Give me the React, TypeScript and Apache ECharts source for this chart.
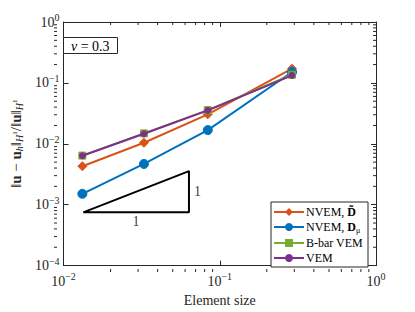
import React, { useEffect, useRef } from "react";
import * as echarts from "echarts";

const xVals = [0.0132, 0.0327, 0.0838, 0.29];
const nvemDtilde = [0.00428, 0.0104, 0.0305, 0.171];
const nvemDmu = [0.00151, 0.00467, 0.0168, 0.151];
const bbarVem = [0.0064, 0.0148, 0.0357, 0.136];
const vem = [0.00636, 0.0146, 0.0354, 0.133];
const seriesNames = ["NVEM, D~", "NVEM, Dmu", "B-bar VEM", "VEM"];
const triangleX = [0.01337, 0.0635];
const triangleY = [7.5e-4, 3.56e-3];
const xDecades = [0.01, 0.1];
const yDecades = [1e-4, 1e-3, 1e-2, 1e-1];
const minorMults = [2, 3, 4, 5, 6, 7, 8, 9];

const FONT = "'Liberation Serif', 'DejaVu Serif', serif";
const AX = "#262626";

const pairs = (ys: number[]) => xVals.map((x, i) => [x, ys[i]]);

const supFmt = (v: number) => {
  const e = Math.round(Math.log10(v));
  return "{b|10}{s|" + (e < 0 ? "\u2212" + -e : String(e)) + "}";
};

const tickRich = {
  b: { fontFamily: FONT, fontSize: 14, color: AX },
  s: { fontFamily: FONT, fontSize: 10, color: AX, verticalAlign: "bottom", padding: [0, 0, 9, 0] },
};

export default function App() {
  const ref = useRef<HTMLDivElement>(null);
  useEffect(() => {
    document.body.style.margin = "0";
    const chart = echarts.init(ref.current!, null, { renderer: "svg" });
    const axisCommon = {
      type: "log" as const,
      logBase: 10,
      axisLine: { show: true, lineStyle: { color: AX, width: 1 } },
      axisTick: { show: true, inside: true, length: 5, lineStyle: { color: AX } },
      minorTick: { show: false },
      splitLine: { show: false },
      minorSplitLine: { show: false },
    };
    const lineSeries = (name: string, data: number[], color: string, symbol: string, size: number, z: number) => ({
      name,
      type: "line",
      data: pairs(data),
      symbol,
      symbolSize: size,
      z,
      lineStyle: { color, width: 2 },
      itemStyle: { color, borderColor: color },
    });
    chart.setOption({
      animation: false,
      grid: { left: 54, right: 39, top: 22, bottom: 40, containLabel: false },
      title: {
        text: "{i|\u03bd} = 0.3",
        left: 63,
        top: 37,
        padding: [2, 8, 1, 8],
        borderColor: AX,
        borderWidth: 1,
        backgroundColor: "#fff",
        textStyle: {
          fontFamily: FONT,
          fontSize: 14,
          fontWeight: "normal",
          color: "#000",
          rich: {
            n: { fontFamily: FONT, fontSize: 14, color: "#000" },
            i: { fontFamily: FONT, fontSize: 14, fontStyle: "italic", color: "#000" },
          },
        },
      },
      xAxis: [
        {
          ...axisCommon,
          min: 0.01,
          max: 1,
          position: "bottom",
          name: "Element size",
          nameLocation: "middle",
          nameGap: 24,
          nameTextStyle: { fontFamily: FONT, fontSize: 14, color: AX },
          axisLabel: { formatter: supFmt, rich: tickRich, margin: 6 },
        },
        {
          ...axisCommon,
          min: 0.01,
          max: 1,
          position: "top",
          axisLabel: { show: false },
        },
      ],
      yAxis: [
        {
          ...axisCommon,
          min: 1e-4,
          max: 1,
          position: "left",
          name:
            "{n|\u2016}{b|u}{n| \u2212 }{b|u}{si|h}{n|\u2016}{si|H}{sup|1}{n|/\u2016}{b|u}{n|\u2016}{si|H}{sup|1}",
          nameLocation: "middle",
          nameGap: 36,
          nameRotate: 90,
          nameTextStyle: {
            fontFamily: FONT,
            fontSize: 15,
            color: AX,
            rich: {
              n: { fontFamily: FONT, fontSize: 15, color: AX },
              b: { fontFamily: FONT, fontSize: 15, fontWeight: "bold", color: AX },
              si: { fontFamily: FONT, fontSize: 10, fontStyle: "italic", color: AX, verticalAlign: "top", padding: [7, 0, 0, 0] },
              sup: { fontFamily: FONT, fontSize: 7, color: AX, verticalAlign: "top", padding: [4, 0, 0, 0] },
            },
          },
          axisLabel: { formatter: supFmt, rich: tickRich, margin: 4 },
        },
        {
          ...axisCommon,
          min: 1e-4,
          max: 1,
          position: "right",
          axisLabel: { show: false },
        },
      ],
      legend: {
        data: seriesNames,
        orient: "vertical",
        right: 47,
        bottom: 45,
        padding: [4, 5, 3, 2],
        itemGap: 3,
        itemWidth: 30,
        itemHeight: 10,
        borderColor: AX,
        borderWidth: 1,
        backgroundColor: "#fff",
        formatter: (name: string) => {
          if (name === "NVEM, D~") return "{n|NVEM, }{b|D\u0303}";
          if (name === "NVEM, Dmu") return "{n|NVEM, }{b|D}{sub|\u03bc}";
          return "{n|" + name + "}";
        },
        textStyle: {
          fontFamily: FONT,
          fontSize: 12,
          color: "#000",
          rich: {
            n: { fontFamily: FONT, fontSize: 12, color: "#000", padding: [0, 0, 0, -3] },
            b: { fontFamily: FONT, fontSize: 12, fontWeight: "bold", color: "#000" },
            sub: { fontFamily: FONT, fontSize: 8, color: "#000", verticalAlign: "top", padding: [6, 0, 0, 0] },
          },
        },
      },
      series: [
        lineSeries(seriesNames[0], nvemDtilde, "#D95319", "diamond", 9, 2),
        lineSeries(seriesNames[1], nvemDmu, "#0072BD", "circle", 9, 3),
        lineSeries(seriesNames[2], bbarVem, "#77AC30", "rect", 7, 4),
        lineSeries(seriesNames[3], vem, "#7E2F8E", "circle", 6, 5),
        {
          type: "line",
          data: [
            [triangleX[0], triangleY[0]],
            [triangleX[1], triangleY[0]],
            [triangleX[1], triangleY[1]],
            [triangleX[0], triangleY[0]],
          ],
          symbol: "none",
          silent: true,
          lineStyle: { color: "#000", width: 2 },
          z: 1,
        },
        {
          type: "scatter",
          silent: true,
          symbolSize: 0,
          data: [
            { value: [Math.sqrt(triangleX[0] * triangleX[1]), triangleY[0]], label: { position: "bottom", distance: 2 } },
            { value: [triangleX[1], Math.sqrt(triangleY[0] * triangleY[1])], label: { position: "right", distance: 5 } },
          ],
          label: { show: true, formatter: "1", fontFamily: FONT, fontSize: 14, color: "#000" },
        },
      ],
    });

    // minor ticks at 2..9 x each decade, positioned through the axes' own scales
    const gridRect = { top: 22, bottom: 312 - 40, left: 54, right: 415 - 39 };
    const els: any[] = [];
    const tickStyle = { stroke: AX, lineWidth: 1 };
    xDecades.forEach((d) => {
      minorMults.forEach((m) => {
        const px = chart.convertToPixel({ xAxisIndex: 0 }, d * m) as number;
        els.push({ type: "line", silent: true, shape: { x1: px, y1: gridRect.bottom, x2: px, y2: gridRect.bottom - 3 }, style: tickStyle });
        els.push({ type: "line", silent: true, shape: { x1: px, y1: gridRect.top, x2: px, y2: gridRect.top + 3 }, style: tickStyle });
      });
    });
    yDecades.forEach((d) => {
      minorMults.forEach((m) => {
        const py = chart.convertToPixel({ yAxisIndex: 0 }, d * m) as number;
        els.push({ type: "line", silent: true, shape: { x1: gridRect.left, y1: py, x2: gridRect.left + 3, y2: py }, style: tickStyle });
        els.push({ type: "line", silent: true, shape: { x1: gridRect.right, y1: py, x2: gridRect.right - 3, y2: py }, style: tickStyle });
      });
    });
    chart.setOption({ graphic: els });
    return () => chart.dispose();
  }, []);
  return <div ref={ref} style={{ width: 415, height: 312 }} />;
}
